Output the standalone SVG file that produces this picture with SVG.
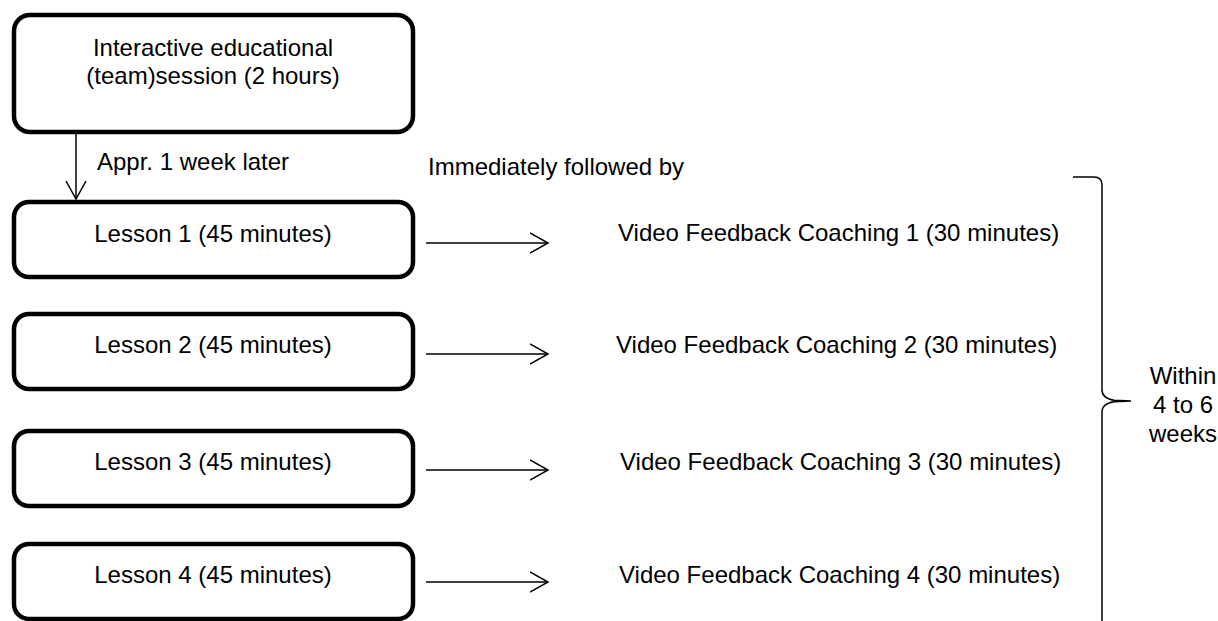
<svg xmlns="http://www.w3.org/2000/svg" width="1218" height="621" viewBox="0 0 1218 621">
<style>
.box{fill:#fff;stroke:#000;stroke-width:4.5}
.t{font-family:"Liberation Sans",Arial,sans-serif;font-size:24px;fill:#000}
.m{text-anchor:middle}
.ln{fill:none;stroke:#000;stroke-width:1.5}
</style>
<defs>
<marker id="ah" markerWidth="20" markerHeight="24" refX="18" refY="11" orient="auto" markerUnits="userSpaceOnUse">
<path d="M0,1 L18,11 L0,21" fill="none" stroke="#000" stroke-width="1.5"/>
</marker>
</defs>
<rect width="1218" height="621" fill="#fff"/>
<g id="session">
<rect class="box" x="14" y="15" width="399" height="117" rx="16"/>
<text class="t m" x="213" y="56">Interactive educational</text>
<text class="t m" x="213" y="84">(team)session (2 hours)</text>
</g>
<g id="lesson1">
<rect class="box" x="14" y="202" width="399" height="75" rx="15"/>
<text class="t m" x="213" y="242">Lesson 1 (45 minutes)</text>
</g>
<g id="lesson2">
<rect class="box" x="14" y="314" width="399" height="75" rx="15"/>
<text class="t m" x="213" y="353">Lesson 2 (45 minutes)</text>
</g>
<g id="lesson3">
<rect class="box" x="14" y="431" width="399" height="75" rx="15"/>
<text class="t m" x="213" y="470">Lesson 3 (45 minutes)</text>
</g>
<g id="lesson4">
<rect class="box" x="14" y="544" width="399" height="75" rx="15"/>
<text class="t m" x="213" y="583">Lesson 4 (45 minutes)</text>
</g>
<g id="coaching1"><text class="t" x="618" y="241">Video Feedback Coaching 1 (30 minutes)</text></g>
<g id="coaching2"><text class="t" x="616" y="353">Video Feedback Coaching 2 (30 minutes)</text></g>
<g id="coaching3"><text class="t" x="620" y="470">Video Feedback Coaching 3 (30 minutes)</text></g>
<g id="coaching4"><text class="t" x="619" y="583">Video Feedback Coaching 4 (30 minutes)</text></g>
<g id="duration">
<path class="ln" stroke-width="2" d="M1073,177 L1094,177 Q1102,177 1102,185 L1102,390 C1102,396 1106,399 1114,400.3 L1131,401 L1114,401.7 C1106,403 1102,406 1102,412 L1102,625"/>
<text class="t m" x="1183" y="384">Within</text>
<text class="t m" x="1183" y="413">4 to 6</text>
<text class="t m" x="1183" y="442">weeks</text>
</g>
<g id="connectors">
<line class="ln" x1="76" y1="133" x2="76" y2="199" marker-end="url(#ah)"/>
<text class="t" x="97" y="170">Appr. 1 week later</text>
<text class="t" x="428" y="175">Immediately followed by</text>
<line class="ln" x1="426" y1="243" x2="548" y2="243" marker-end="url(#ah)"/>
<line class="ln" x1="426" y1="354" x2="548" y2="354" marker-end="url(#ah)"/>
<line class="ln" x1="426" y1="470" x2="548" y2="470" marker-end="url(#ah)"/>
<line class="ln" x1="426" y1="582" x2="548" y2="582" marker-end="url(#ah)"/>
</g>
</svg>
